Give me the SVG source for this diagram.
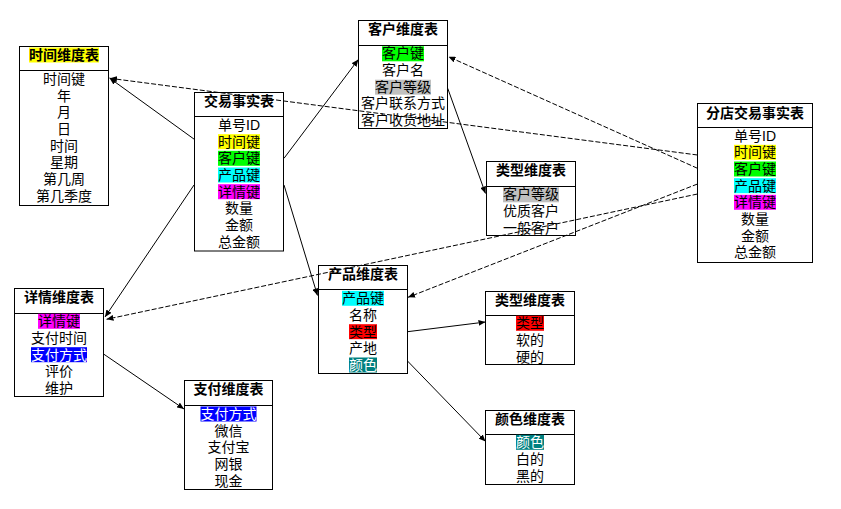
<svg xmlns="http://www.w3.org/2000/svg" width="841" height="509" viewBox="0 0 841 509">
<style>
text{font-family:"Liberation Sans","Noto Sans CJK SC",sans-serif;font-size:14px;text-anchor:middle;fill:#000}
.t{font-weight:bold}
.w{fill:#fff}
.box{fill:#fff;stroke:#000;stroke-width:1}
.div{stroke:#000;stroke-width:1}
.c{stroke:#000;stroke-width:1;fill:none;marker-end:url(#ah)}
.d{stroke-dasharray:5,2}
.y{fill:#ffff00}.g{fill:#00ff00}.cy{fill:#00ffff}.m{fill:#ff00ff}.gr{fill:#c0c0c0}.b{fill:#0000ff}.r{fill:#ff0000}.tl{fill:#008080}
</style>
<defs>
<marker id="ah" markerUnits="userSpaceOnUse" markerWidth="7" markerHeight="6" refX="7" refY="3" orient="auto">
<path d="M0,0 L7,3 L0,6 z" fill="#000"/>
</marker>
</defs>
<rect width="841" height="509" fill="#fff"/>

<g id="time-dim">
<rect class="box" x="19.5" y="46.5" width="89" height="159"/>
<line class="div" x1="19.5" y1="70.5" x2="108.5" y2="70.5"/>
<rect class="y" x="29" y="47.5" width="70" height="15"/>
<text class="t" x="64" y="60">时间维度表</text>
<text x="64" y="84">时间键</text>
<text x="64" y="100.7">年</text>
<text x="64" y="117.3">月</text>
<text x="64" y="134">日</text>
<text x="64" y="150.7">时间</text>
<text x="64" y="167.3">星期</text>
<text x="64" y="184">第几周</text>
<text x="64" y="200.7">第几季度</text>
</g>

<g id="fact">
<rect class="box" x="194.5" y="92.5" width="89" height="158.5"/>
<line class="div" x1="194.5" y1="116.5" x2="283.5" y2="116.5"/>
<text class="t" x="239" y="106">交易事实表</text>
<text x="239" y="130">单号ID</text>
<rect class="y" x="218" y="134.2" width="42" height="15"/>
<text x="239" y="146.7">时间键</text>
<rect class="g" x="218" y="150.8" width="42" height="15"/>
<text x="239" y="163.3">客户键</text>
<rect class="cy" x="218" y="167.5" width="42" height="15"/>
<text x="239" y="180">产品键</text>
<rect class="m" x="218" y="184.2" width="42" height="15"/>
<text x="239" y="196.7">详情键</text>
<text x="239" y="213.3">数量</text>
<text x="239" y="230">金额</text>
<text x="239" y="246.7">总金额</text>
</g>

<g id="customer-dim">
<rect class="box" x="358.5" y="20.5" width="89" height="108"/>
<line class="div" x1="358.5" y1="45.5" x2="447.5" y2="45.5"/>
<text class="t" x="403" y="34.2">客户维度表</text>
<rect class="g" x="382" y="46.3" width="42" height="15"/>
<text x="403" y="58.3">客户键</text>
<text x="403" y="75">客户名</text>
<rect class="gr" x="375" y="79.7" width="56" height="15"/>
<text x="403" y="91.7">客户等级</text>
<text x="403" y="108.3">客户联系方式</text>
<text x="403" y="125">客户收货地址</text>
</g>

<g id="customer-type-dim">
<rect class="box" x="486.5" y="161.5" width="89" height="74"/>
<line class="div" x1="486.5" y1="186.5" x2="575.5" y2="186.5"/>
<text class="t" x="531" y="175">类型维度表</text>
<rect class="gr" x="503" y="187.3" width="56" height="15"/>
<text x="531" y="199.3">客户等级</text>
<text x="531" y="216">优质客户</text>
<text x="531" y="232.7">一般客户</text>
</g>

<g id="branch-fact">
<rect class="box" x="697.5" y="103.5" width="115" height="159"/>
<line class="div" x1="697.5" y1="127.5" x2="812.5" y2="127.5"/>
<text class="t" x="755" y="117.7">分店交易事实表</text>
<text x="755" y="140.7">单号ID</text>
<rect class="y" x="734" y="144.8" width="42" height="15"/>
<text x="755" y="157.3">时间键</text>
<rect class="g" x="734" y="161.5" width="42" height="15"/>
<text x="755" y="174">客户键</text>
<rect class="cy" x="734" y="178.2" width="42" height="15"/>
<text x="755" y="190.7">产品键</text>
<rect class="m" x="734" y="194.8" width="42" height="15"/>
<text x="755" y="207.3">详情键</text>
<text x="755" y="224">数量</text>
<text x="755" y="240.7">金额</text>
<text x="755" y="257.3">总金额</text>
</g>

<g id="detail-dim">
<rect class="box" x="14.5" y="288.5" width="89" height="108"/>
<line class="div" x1="14.5" y1="313.5" x2="103.5" y2="313.5"/>
<text class="t" x="59" y="301.7">详情维度表</text>
<rect class="m" x="38" y="313.8" width="42" height="15"/>
<text x="59" y="326">详情键</text>
<text x="59" y="343">支付时间</text>
<rect class="b" x="31" y="347.2" width="56" height="15"/>
<text class="w" x="59" y="359.7">支付方式</text>
<text x="59" y="376">评价</text>
<text x="59" y="393">维护</text>
</g>

<g id="payment-dim">
<rect class="box" x="184.5" y="380.5" width="88" height="109"/>
<line class="div" x1="184.5" y1="405.5" x2="272.5" y2="405.5"/>
<text class="t" x="228.5" y="393.5">支付维度表</text>
<rect class="b" x="200.5" y="406.5" width="56" height="15"/>
<text class="w" x="228.5" y="419">支付方式</text>
<text x="228.5" y="435.7">微信</text>
<text x="228.5" y="452.3">支付宝</text>
<text x="228.5" y="469">网银</text>
<text x="228.5" y="485.7">现金</text>
</g>

<g id="product-dim">
<rect class="box" x="318.5" y="265.5" width="89" height="108"/>
<line class="div" x1="318.5" y1="289.5" x2="407.5" y2="289.5"/>
<text class="t" x="363" y="279">产品维度表</text>
<rect class="cy" x="342" y="290.8" width="42" height="15"/>
<text x="363" y="303.3">产品键</text>
<text x="363" y="320">名称</text>
<rect class="r" x="349" y="324.2" width="28" height="15"/>
<text x="363" y="336.7">类型</text>
<text x="363" y="353.3">产地</text>
<rect class="tl" x="349" y="357.5" width="28" height="15"/>
<text class="w" x="363" y="370">颜色</text>
</g>

<g id="product-type-dim">
<rect class="box" x="485.5" y="291.5" width="89" height="73"/>
<line class="div" x1="485.5" y1="315.5" x2="574.5" y2="315.5"/>
<text class="t" x="530" y="305">类型维度表</text>
<rect class="r" x="516" y="315.8" width="28" height="15"/>
<text x="530" y="328.3">类型</text>
<text x="530" y="345">软的</text>
<text x="530" y="362">硬的</text>
</g>

<g id="color-dim">
<rect class="box" x="485.5" y="410.5" width="89" height="74"/>
<line class="div" x1="485.5" y1="434.5" x2="574.5" y2="434.5"/>
<text class="t" x="530" y="424">颜色维度表</text>
<rect class="tl" x="516" y="434.8" width="28" height="15"/>
<text class="w" x="530" y="447.3">颜色</text>
<text x="530" y="464">白的</text>
<text x="530" y="480.7">黑的</text>
</g>

<g id="connectors">
<line class="c" x1="194.3" y1="139.3" x2="109.5" y2="78"/>
<line class="c" x1="284" y1="158.3" x2="358.3" y2="59.5"/>
<line class="c" x1="284" y1="185" x2="317.5" y2="295.5"/>
<line class="c" x1="194" y1="185" x2="105" y2="317"/>
<line class="c" x1="447.7" y1="88.3" x2="485.5" y2="193.5"/>
<line class="c" x1="104" y1="354.3" x2="184" y2="409"/>
<line class="c" x1="407.5" y1="331.7" x2="485.5" y2="322"/>
<line class="c" x1="407.5" y1="361" x2="485.5" y2="441.5"/>
<line class="c d" x1="697.5" y1="155" x2="110" y2="78.3"/>
<line class="c d" x1="697.5" y1="168.3" x2="448.5" y2="56.7"/>
<line class="c d" x1="697.5" y1="184" x2="408" y2="297.3"/>
<line class="c d" x1="697.5" y1="194" x2="106.5" y2="319.3"/>
</g>
</svg>
